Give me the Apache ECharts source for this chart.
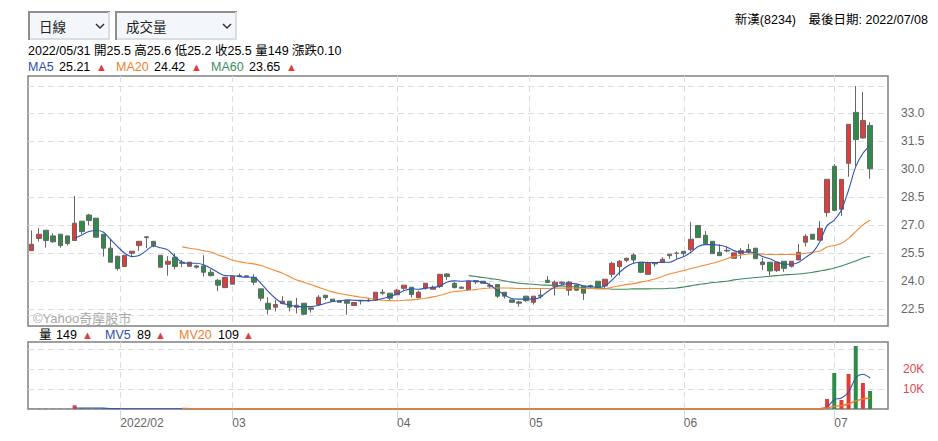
<!DOCTYPE html>
<html>
<head>
<meta charset="utf-8">
<title>新漢(8234)</title>
<style>
html, body { margin: 0; padding: 0; background: #fff; }
#chart { width: 938px; height: 441px; }
</style>
<script src="https://cdn.jsdelivr.net/npm/echarts@6/dist/echarts.min.js"></script>
</head>
<body>
<div id="chart"></div>
<script>
// 交易日 (最後留兩格空白)
const dates = [
  '01/10','01/11','01/12','01/13','01/14','01/17','01/18','01/19','01/20','01/21','01/24','01/25','01/26',
  '02/07','02/08','02/09','02/10','02/11','02/14','02/15','02/16','02/17','02/18','02/21','02/22','02/23','02/24','02/25',
  '03/01','03/02','03/03','03/04','03/07','03/08','03/09','03/10','03/11','03/14','03/15','03/16','03/17','03/18','03/21','03/22','03/23','03/24','03/25','03/28','03/29','03/30','03/31',
  '04/01','04/06','04/07','04/08','04/11','04/12','04/13','04/14','04/15','04/18','04/19','04/20','04/21','04/22','04/25','04/26','04/27','04/28','04/29',
  '05/03','05/04','05/05','05/06','05/09','05/10','05/11','05/12','05/13','05/16','05/17','05/18','05/19','05/20','05/23','05/24','05/25','05/26','05/27','05/30','05/31',
  '06/01','06/02','06/06','06/07','06/08','06/09','06/10','06/13','06/14','06/15','06/16','06/17','06/20','06/21','06/22','06/23','06/24','06/27','06/28','06/29','06/30',
  '07/01','07/04','07/05','07/06','07/07','07/08',' ','  '
];

const opens = [25.64,26.29,26.73,26.43,26.52,26.43,26.18,27.22,27.55,27.38,
  26.52,25.77,25.34,24.79,25.50,25.91,26.34,26.14,25.39,24.91,
  25.29,25.02,24.80,24.82,24.82,24.48,24.05,23.66,23.84,24.30,
  24.29,24.21,23.59,22.82,22.61,22.80,22.93,22.61,22.82,22.57,
  22.75,23.25,23.04,22.95,22.96,22.70,22.98,22.98,22.98,23.41,
  23.36,23.27,23.62,23.68,23.12,23.64,23.57,23.71,24.39,23.89,
  23.68,23.55,24.03,24.00,23.77,23.82,23.41,23.00,22.89,23.20,
  22.87,23.25,24.05,23.73,23.95,23.52,23.80,23.73,23.77,24.00,
  23.75,24.37,24.78,25.12,25.41,25.02,24.37,24.98,25.00,25.45,
  25.50,25.60,25.69,26.99,26.46,26.14,25.55,25.66,25.23,25.48,
  25.70,25.77,25.03,25.02,24.57,25.07,24.80,25.14,26.09,26.52,
  26.20,27.68,30.16,27.86,30.32,33.05,31.68,32.35];

const closes = [25.98,26.52,26.18,26.11,25.91,26.02,27.11,26.66,27.25,26.36,
  25.77,25.02,24.68,25.39,25.61,26.14,26.38,25.91,24.75,25.07,
  24.79,24.96,25.02,24.75,24.48,24.30,23.79,24.21,24.27,24.27,
  24.25,23.95,23.09,22.50,22.75,22.93,22.61,22.71,22.23,22.50,
  23.14,23.12,22.91,22.87,22.82,22.86,22.95,22.95,23.41,23.36,
  23.09,23.52,23.79,23.29,23.41,23.89,23.68,24.37,24.25,23.66,
  23.62,24.00,23.96,23.89,23.73,23.20,23.20,22.87,22.82,22.96,
  23.20,23.20,23.93,23.95,23.89,23.95,23.52,23.36,23.71,23.66,
  24.11,24.96,25.07,25.23,25.14,24.48,24.98,24.93,25.18,25.37,
  25.50,25.48,26.25,26.34,26.02,25.48,25.37,25.62,25.52,25.64,
  25.57,25.21,24.89,24.55,25.02,24.69,25.07,25.55,26.41,26.25,
  26.84,29.46,27.80,29.46,32.41,31.59,32.62,30.03];

const lows = [25.64,26.13,25.80,26.07,25.80,25.91,26.18,26.52,27.00,26.36,
  25.32,25.02,24.57,24.79,25.34,25.63,25.77,25.82,24.75,24.30,
  24.64,24.75,24.79,24.68,24.25,24.25,23.47,23.63,23.84,24.21,
  24.20,23.79,22.93,22.22,22.38,22.77,22.38,22.27,22.20,22.32,
  22.71,23.00,22.91,22.87,22.20,22.70,22.75,22.91,22.98,23.27,
  23.00,23.27,23.54,23.12,23.12,23.54,23.57,23.63,24.07,23.61,
  23.62,23.55,23.84,23.89,23.63,23.10,23.07,22.87,22.64,22.89,
  22.75,23.07,23.93,23.23,23.79,23.23,23.48,23.00,23.63,23.63,
  23.62,24.21,24.30,25.02,24.96,24.43,24.36,24.78,25.00,25.20,
  25.20,25.36,25.59,26.34,26.02,25.48,25.37,25.55,25.23,25.20,
  25.50,25.21,24.60,24.30,24.50,24.50,24.73,25.14,25.86,26.25,
  26.20,27.46,27.80,27.50,29.60,30.18,31.64,29.50];

const highs = [26.72,26.84,26.73,26.57,26.52,26.43,28.57,27.22,27.61,27.38,
  26.52,26.22,25.34,25.39,25.61,26.14,26.41,26.14,25.39,25.34,
  25.50,25.13,25.02,24.88,25.39,24.64,24.13,24.21,24.30,24.41,
  24.30,24.38,23.59,23.14,22.98,23.20,22.93,23.11,22.82,22.57,
  23.25,23.25,23.04,22.95,23.00,22.86,22.98,23.11,23.41,23.57,
  23.36,23.59,23.79,23.68,23.50,23.89,23.77,24.37,24.43,23.96,
  23.73,24.00,24.07,24.00,23.89,23.82,23.41,23.00,22.95,23.20,
  23.20,23.57,24.27,24.04,23.98,24.02,23.80,23.73,23.82,24.00,
  24.11,25.05,25.14,25.27,25.50,25.02,25.05,25.02,25.28,25.45,
  25.60,25.60,27.18,26.99,26.69,26.14,25.98,25.86,25.52,25.77,
  26.00,25.77,25.25,25.02,25.02,25.07,25.07,26.00,26.52,26.52,
  27.23,29.46,30.28,29.46,32.41,34.46,34.14,32.52];

const ma5 = [null,null,null,null,null,null,26.30,26.48,26.66,26.72,
  26.64,26.25,25.86,25.50,25.32,25.38,25.64,25.89,25.79,25.68,
  25.32,25.02,24.96,24.96,24.88,24.70,24.47,24.30,24.29,24.25,
  24.21,24.21,23.89,23.45,23.09,22.82,22.73,22.64,22.64,22.64,
  22.70,22.82,22.91,22.95,23.00,22.98,22.96,22.96,23.00,23.07,
  23.18,23.32,23.50,23.59,23.57,23.63,23.66,23.75,23.96,24.02,
  24.00,24.02,24.00,23.95,23.80,23.50,23.27,23.07,23.04,23.04,
  23.04,23.14,23.45,23.68,23.80,23.89,23.86,23.75,23.71,23.68,
  23.75,24.07,24.46,24.78,24.96,25.02,25.00,25.00,25.02,25.02,
  25.18,25.32,25.55,25.86,25.96,25.96,25.93,25.84,25.64,25.55,
  25.57,25.50,25.32,25.20,25.03,24.91,24.91,25.00,25.28,25.55,
  26.12,26.98,27.28,27.82,28.89,30.14,30.86,31.27];

const ma20 = [null,null,null,null,null,null,null,null,null,null,
  null,null,null,null,null,null,null,null,null,null,
  null,25.84,25.77,25.71,25.64,25.57,25.41,25.29,25.14,25.05,
  24.98,24.93,24.84,24.71,24.57,24.43,24.25,24.07,23.95,23.82,
  23.68,23.54,23.43,23.34,23.27,23.20,23.14,23.09,23.04,22.98,
  22.96,22.95,22.98,23.00,23.04,23.09,23.16,23.25,23.36,23.45,
  23.48,23.52,23.55,23.61,23.64,23.64,23.64,23.63,23.61,23.61,
  23.61,23.61,23.61,23.63,23.63,23.63,23.63,23.61,23.61,23.59,
  23.59,23.68,23.75,23.82,23.87,23.95,24.03,24.12,24.25,24.39,
  24.48,24.57,24.68,24.78,24.87,24.96,25.07,25.21,25.32,25.41,
  25.46,25.48,25.45,25.43,25.43,25.43,25.43,25.45,25.50,25.55,
  25.62,25.84,25.91,26.03,26.30,26.66,27.02,27.27];

const ma60 = [null,null,null,null,null,null,null,null,null,null,
  null,null,null,null,null,null,null,null,null,null,
  null,null,null,null,null,null,null,null,null,null,
  null,null,null,null,null,null,null,null,null,null,
  null,null,null,null,null,null,null,null,null,null,
  null,null,null,null,null,null,null,null,null,null,
  null,24.30,24.25,24.20,24.14,24.09,24.02,23.95,23.89,23.86,
  23.84,23.80,23.79,23.77,23.75,23.71,23.70,23.66,23.64,23.63,
  23.61,23.57,23.57,23.57,23.59,23.59,23.59,23.60,23.60,23.62,
  23.64,23.69,23.75,23.82,23.87,23.93,23.96,24.00,24.07,24.12,
  24.16,24.20,24.23,24.27,24.30,24.34,24.36,24.39,24.43,24.48,
  24.55,24.62,24.71,24.82,24.95,25.09,25.25,25.34];

const volumes = [150,140,160,120,130,110,1850,260,180,200,
  220,190,170,160,140,150,130,140,170,180,
  150,120,110,100,130,120,140,150,130,100,
  90,120,150,170,120,110,130,140,150,100,
  140,110,100,90,130,100,90,110,150,100,
  110,120,130,120,110,130,100,170,120,110,
  90,130,100,100,90,120,110,100,100,110,
  100,110,120,110,90,110,100,110,90,100,
  110,130,120,100,110,120,120,90,100,90,
  149,90,140,120,110,120,90,80,90,90,
  90,100,100,110,90,100,90,120,130,110,
  360,5000,18000,4500,17500,31500,13000,9000];

const mv5 = [null,null,null,null,null,null,520,520,500,480,
  460,200,170,150,140,150,130,140,150,160,
  150,140,130,120,120,120,130,130,130,120,
  110,110,120,130,130,130,130,130,130,130,
  120,120,120,110,110,100,100,100,110,110,
  110,110,120,120,120,120,120,130,130,120,
  110,110,110,110,100,100,100,100,100,100,
  100,100,100,110,100,100,100,100,100,100,
  100,110,110,110,110,110,110,110,100,100,
  89,100,110,110,110,110,110,100,90,90,
  90,90,100,100,100,100,100,100,110,110,
  200,1000,4700,5500,8500,15500,17400,15500];

const mv20 = [null,null,null,null,null,null,null,null,null,null,
  null,null,null,null,null,null,null,null,null,null,
  null,230,210,190,170,150,140,140,130,130,
  130,130,130,130,130,130,130,130,130,130,
  130,120,120,120,120,120,120,120,120,120,
  120,120,120,120,120,120,120,120,120,120,
  120,120,110,110,110,110,110,110,110,110,
  110,110,110,110,110,110,110,110,110,110,
  110,110,110,110,110,110,110,110,110,110,
  109,110,110,110,110,110,110,110,110,110,
  110,110,110,110,110,110,110,110,110,110,
  120,500,1400,1700,2500,4000,5000,5500];

// 月份刻度 (以交易日序號計)
const monthPositions = [12.38, 28, 51, 69.44, 91, 112];
const monthLabels = ['2022/02', '03', '04', '05', '06', '07'];

const priceTicks = [22.18, 22.5, 24, 25.5, 27, 28.5, 30, 31.5, 33, 34.46];
const priceLabels = [22.5, 24, 25.5, 27, 28.5, 30, 31.5, 33];
const volumeTicks = [10000, 20000, 30000];
const volumeLabels = [10000, 20000];

const quoteRow = '2022/05/31 開25.5 高25.6 低25.2 收25.5 量149 漲跌0.10';
const stockTitle = '新漢(8234)\u3000最後日期: 2022/07/08';
const periodOption = '日線';
const indicatorOption = '成交量';
const maLegend = [
  { name: 'MA5', value: '25.21', color: '#2f4fa8', x: 28, vx: 59, ax: 96 },
  { name: 'MA20', value: '24.42', color: '#f07f2a', x: 116, vx: 154, ax: 191 },
  { name: 'MA60', value: '23.65', color: '#3d8b5f', x: 211, vx: 249, ax: 286 }
];
const volLegend = [
  { name: '量', value: '149', color: '#000', x: 39, vx: 56, ax: 82 },
  { name: 'MV5', value: '89', color: '#2f4fa8', x: 105, vx: 137, ax: 155 },
  { name: 'MV20', value: '109', color: '#f07f2a', x: 179, vx: 218, ax: 243 }
];

const RED = '#e23b3b';
const GREEN = '#2e8b4a';
const FONT = '"Liberation Sans", "Noto Sans CJK TC", sans-serif';
const GRID_LINE = { show: true, lineStyle: { color: '#dddddd', type: [6, 4], width: 1 } };

var chart = echarts.init(document.getElementById('chart'), null, { renderer: 'svg' });

function label(x, y, text, color, size, align) {
  return {
    type: 'text', x: x, y: y, silent: true,
    style: { text: text, fill: color || '#000', font: (size || 12.5) + 'px ' + FONT, verticalAlign: 'middle', align: align || 'left' }
  };
}

function selectBox(x, w, text) {
  return [
    { type: 'rect', shape: { x: x, y: 11, width: w, height: 29 }, style: { fill: '#f3f6fa' }, silent: true },
    { type: 'polyline', shape: { points: [[x + 1, 40], [x + 1, 12], [x + w, 12]] }, style: { stroke: '#8e8e8e', lineWidth: 2, fill: null }, silent: true },
    { type: 'polyline', shape: { points: [[x + w - 1, 12], [x + w - 1, 39], [x + 2, 39]] }, style: { stroke: '#d9dee3', lineWidth: 2, fill: null }, silent: true },
    label(x + 11, 27, text, '#222', 13.5),
    { type: 'polyline', shape: { points: [[x + w - 14, 24], [x + w - 10, 28], [x + w - 6, 24]] }, style: { stroke: '#333', lineWidth: 1.5, fill: null }, silent: true }
  ];
}

function legendRow(items, y) {
  let out = [];
  items.forEach(it => {
    out.push(label(it.x, y, it.name, it.color));
    out.push(label(it.vx, y, it.value, '#000'));
    out.push(label(it.ax, y, '▲', RED, 11));
  });
  return out;
}

let graphics = []
  .concat(selectBox(28, 82, periodOption))
  .concat(selectBox(115, 122, indicatorOption))
  .concat([label(928, 20, stockTitle, '#000', 12.5, 'right'), label(28, 51, quoteRow, '#000')])
  .concat(legendRow(maLegend, 67))
  .concat(legendRow(volLegend, 335))
  .concat([label(33, 318, '©Yahoo奇摩股市', '#a8a8a8', 13)]);

function monthAxis(gridIndex, showLabel) {
  return {
    type: 'value', gridIndex: gridIndex, position: 'bottom', min: -0.5, max: 119.5,
    axisLine: { show: false },
    axisTick: { show: showLabel, length: 10, customValues: monthPositions, lineStyle: { color: '#ccd6eb' } },
    axisLabel: {
      show: showLabel, customValues: monthPositions, align: 'left', margin: 8,
      color: '#666', fontSize: 12, fontFamily: FONT,
      formatter: v => monthLabels[monthPositions.indexOf(v)]
    },
    splitLine: GRID_LINE
  };
}

function slotAxis(gridIndex) {
  return {
    type: 'category', gridIndex: gridIndex, data: dates, boundaryGap: true,
    axisLine: { show: false }, axisTick: { show: false }, axisLabel: { show: false }, splitLine: { show: false }
  };
}

function avgLine(name, data, xi, yi, color, width) {
  return {
    name: name, type: 'line', xAxisIndex: xi, yAxisIndex: yi, data: data,
    showSymbol: false, smooth: 0.3, silent: true,
    lineStyle: { color: color, width: width }, z: 5
  };
}

chart.setOption({
  animation: false,
  backgroundColor: '#fff',
  textStyle: { fontFamily: FONT },
  graphic: graphics,
  grid: [
    { left: 28, top: 76, width: 860, height: 250, show: true, borderColor: '#808080', borderWidth: 1.5, backgroundColor: 'transparent' },
    { left: 28, top: 342, width: 860, height: 67, show: true, borderColor: '#808080', borderWidth: 1.5, backgroundColor: 'transparent' }
  ],
  xAxis: [slotAxis(0), slotAxis(1), monthAxis(0, false), monthAxis(1, true)],
  yAxis: [
    {
      type: 'value', gridIndex: 0, position: 'right', min: 21.6, max: 35, scale: true,
      axisLine: { show: false },
      axisTick: { show: false, customValues: priceTicks },
      axisLabel: { customValues: priceLabels, margin: 13, color: '#666', fontSize: 12, fontFamily: FONT, formatter: v => v.toFixed(1) },
      splitLine: GRID_LINE
    },
    {
      type: 'value', gridIndex: 1, position: 'right', min: 0, max: 33500,
      axisLine: { show: false },
      axisTick: { show: false, customValues: volumeTicks },
      axisLabel: { customValues: volumeLabels, margin: 15, color: '#e4474a', fontSize: 12, fontFamily: FONT, formatter: v => (v / 1000) + 'K' },
      splitLine: GRID_LINE
    }
  ],
  series: [
    {
      name: 'K', type: 'candlestick', xAxisIndex: 0, yAxisIndex: 0, barWidth: 5, silent: true,
      data: opens.map((o, i) => [o, closes[i], lows[i], highs[i]]),
      itemStyle: { color: RED, color0: GREEN, borderColor: '#666', borderColor0: '#666', borderColorDoji: '#666', borderWidth: 1 },
      z: 3
    },
    avgLine('MA60', ma60, 0, 0, '#3d8b5f', 1.1),
    avgLine('MA20', ma20, 0, 0, '#f58a35', 1.1),
    avgLine('MA5', ma5, 0, 0, '#2f55b5', 1.1),
    {
      name: '量', type: 'bar', xAxisIndex: 1, yAxisIndex: 1, barWidth: 4, silent: true,
      data: volumes.map((v, i) => ({ value: v, itemStyle: { color: closes[i] >= opens[i] ? RED : GREEN } })),
      z: 3
    },
    avgLine('MV5', mv5, 1, 1, '#2f55b5', 1.1),
    avgLine('MV20', mv20, 1, 1, '#ee7b25', 1.4)
  ]
});
</script>
</body>
</html>
